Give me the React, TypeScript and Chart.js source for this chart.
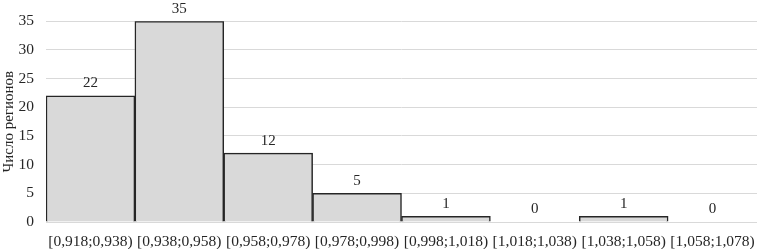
import React, { useEffect, useRef } from "react";
import { Chart, registerables } from "chart.js";

Chart.register(...registerables);

const categories = [
  "[0,918;0,938)",
  "[0,938;0,958)",
  "[0,958;0,978)",
  "[0,978;0,998)",
  "[0,998;1,018)",
  "[1,018;1,038)",
  "[1,038;1,058)",
  "[1,058;1,078)",
];
const counts = [22, 35, 12, 5, 1, 0, 1, 0];
const yTitle = "Число регионов";

const FONT = "'Liberation Serif', 'Times New Roman', serif";
const TEXT = "#262626";

const valueLabels = {
  id: "valueLabels",
  afterDatasetsDraw(chart: any) {
    const ctx = chart.ctx;
    const meta = chart.getDatasetMeta(0);
    const data = chart.data.datasets[0].data as number[];
    ctx.save();
    ctx.font = `15px ${FONT}`;
    ctx.fillStyle = TEXT;
    ctx.textAlign = "center";
    ctx.textBaseline = "bottom";
    meta.data.forEach((bar: any, i: number) => {
      ctx.fillText(String(data[i]), bar.x, bar.y - 5);
    });
    ctx.restore();
  },
};

export default function App() {
  const ref = useRef<HTMLCanvasElement>(null);
  useEffect(() => {
    if (!ref.current) return;
    const chart = new Chart(ref.current, {
      type: "bar",
      data: {
        labels: categories,
        datasets: [
          {
            data: counts,
            backgroundColor: "#d9d9d9",
            borderColor: "#262626",
            borderWidth: 1.5,
            barPercentage: 1,
            categoryPercentage: 1,
          },
        ],
      },
      options: {
        animation: false,
        responsive: false,
        maintainAspectRatio: false,
        layout: { padding: { top: 11, right: 1, left: 0, bottom: 0 } },
        plugins: {
          legend: { display: false },
          tooltip: { enabled: false },
        },
        scales: {
          x: {
            grid: { display: false },
            border: { display: false },
            afterFit: (scale: any) => {
              scale.height = 27;
            },
            ticks: {
              color: TEXT,
              font: { family: FONT, size: 15.5 },
              maxRotation: 0,
              minRotation: 0,
              autoSkip: false,
              padding: 3,
            },
          },
          y: {
            min: 0,
            max: 35,
            afterFit: (scale: any) => {
              scale.width = 46;
            },
            ticks: {
              stepSize: 5,
              color: TEXT,
              font: { family: FONT, size: 15.5 },
              padding: 12,
            },
            grid: { color: "#d9d9d9", drawTicks: false },
            border: { display: false },
            title: {
              display: true,
              text: yTitle,
              color: TEXT,
              font: { family: FONT, size: 15 },
              padding: 0,
            },
          },
        },
      },
      plugins: [valueLabels],
    });
    return () => chart.destroy();
  }, []);
  return (
    <div style={{ position: "fixed", left: 0, top: 0, width: 758, height: 249, background: "#fff" }}>
      <canvas ref={ref} width={758} height={249} style={{ width: 758, height: 249 }} />
    </div>
  );
}
